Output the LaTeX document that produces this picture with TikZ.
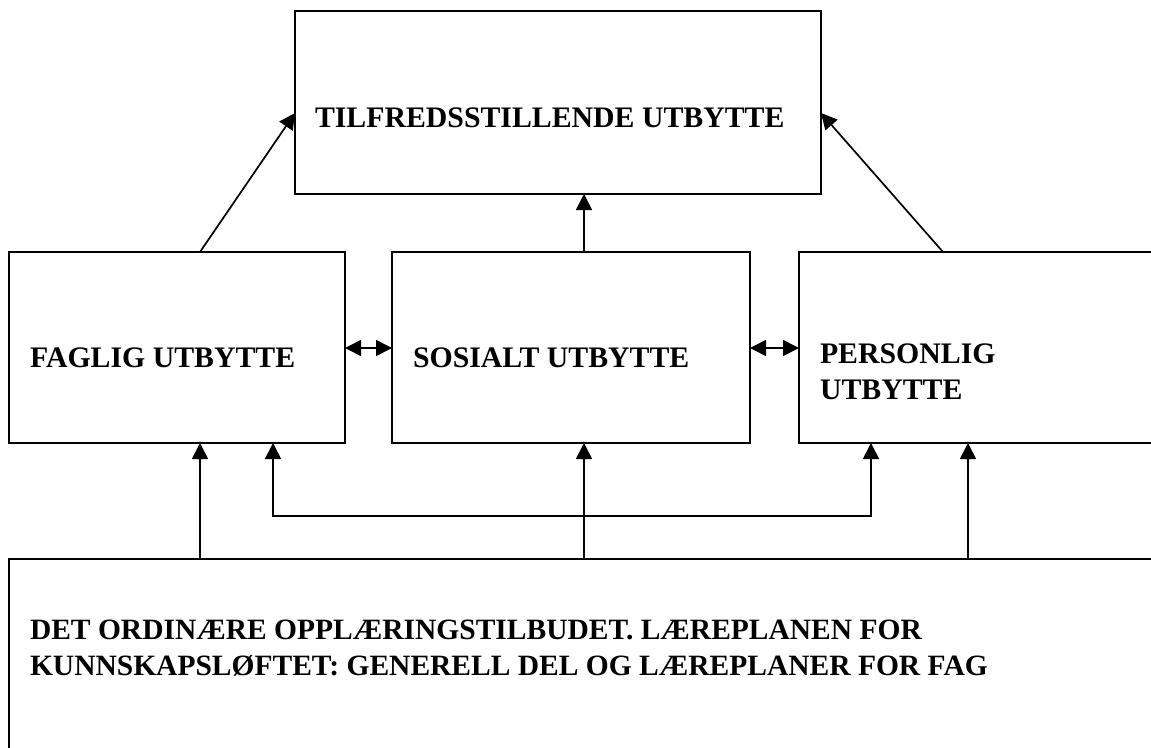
\documentclass[tikz,border=0pt]{standalone}
\usepackage{fontspec}
\setmainfont{Liberation Serif}
\usetikzlibrary{arrows.meta,calc}

\tikzset{
  box/.style={draw=black, line width=2pt, fill=white, rectangle,
    inner sep=0pt, outer sep=0pt, anchor=north west},
  label/.style={inner sep=0pt, outer sep=0pt, align=left,
    font=\bfseries\fontsize{29.8}{36.5}\selectfont},
  tip/.tip={Triangle[length=16pt,width=16pt]},
  arr/.style={line width=1.7pt, -tip},
  duo/.style={line width=1.7pt, tip-tip}
}

\begin{document}
\begin{tikzpicture}[x=1pt,y=-1pt]
\useasboundingbox (0,0) rectangle (1151,747);
\clip (0,0) rectangle (1151,747);
\fill[white] (0,0) rectangle (1151,747);

% boxes
\node[box, minimum width=526pt, minimum height=183pt] (top) at (295,11) {};
\node[box, minimum width=336pt, minimum height=191pt] (fag) at (9,252) {};
\node[box, minimum width=358pt, minimum height=191pt] (sos) at (392,252) {};
\node[box, minimum width=380pt, minimum height=191pt] (per) at (799,252) {};
\node[box, minimum width=1170pt, minimum height=220pt] (base) at (9,559) {};

% texts
\node[label, anchor=base west] (ttop) at (315,127) {TILFREDSSTILLENDE UTBYTTE};
\node[label, anchor=base west] (tfag) at (30,367) {FAGLIG UTBYTTE};
\node[label, anchor=base west] (tsos) at (413,367) {SOSIALT UTBYTTE};
\node[label, anchor=west] (tper) at (820,372) {PERSONLIG\\UTBYTTE};
\node[label, anchor=west, font=\bfseries\fontsize{29.5}{36.5}\selectfont] (tbase) at (30,648)
  {DET ORDINÆRE OPPLÆRINGSTILBUDET. LÆREPLANEN FOR\\KUNNSKAPSLØFTET: GENERELL DEL OG LÆREPLANER FOR FAG};

% arrows to the top box
\draw[arr] ($(fag.north west)+(191,0)$) -- ($(top.north west)+(0,102)$);
\draw[arr] ($(per.north west)+(144,0)$) -- ($(top.north east)+(0,102)$);
\draw[arr] ($(sos.north west)+(192,0)$) -- ($(top.south west)+(289,0)$);

% mutual links in the middle row
\draw[duo] ($(fag.north east)+(0,96)$) -- ($(sos.north west)+(0,96)$);
\draw[duo] ($(sos.north east)+(0,96)$) -- ($(per.north west)+(0,96)$);

% arrows from the base box
\draw[arr] ($(base.north west)+(191,0)$) -- ($(fag.south west)+(191,0)$);
\draw[arr] ($(base.north west)+(575,0)$) -- ($(sos.south west)+(192,0)$);
\draw[arr] ($(base.north west)+(959,0)$) -- ($(per.south west)+(169,0)$);

% link between faglig and personlig
\coordinate (bl) at ($(fag.south west)+(264,73)$);
\coordinate (br) at ($(per.south west)+(72,73)$);
\draw[duo] ($(fag.south west)+(264,0)$) -- (bl) -- (br) -- ($(per.south west)+(72,0)$);
\end{tikzpicture}
\end{document}
